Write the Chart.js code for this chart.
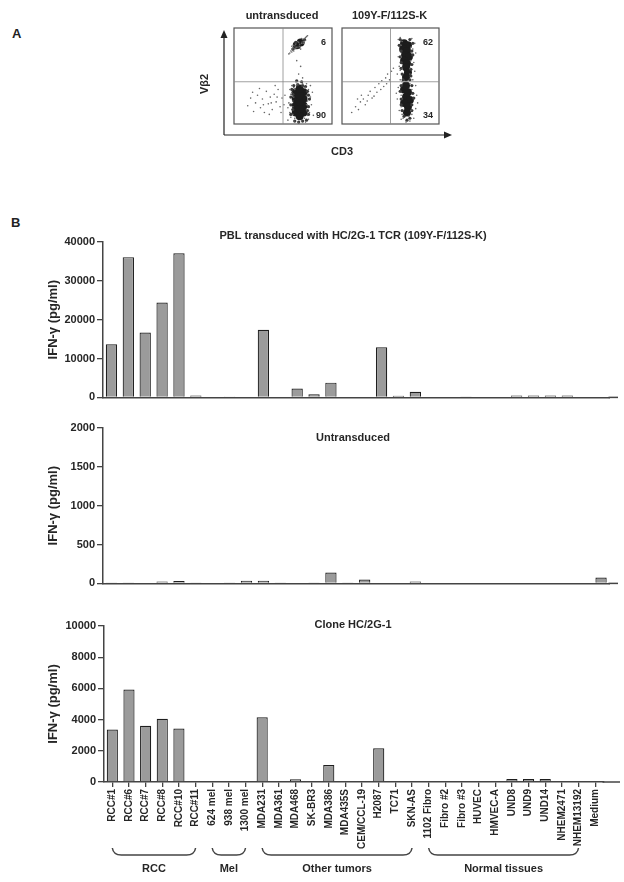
<!DOCTYPE html>
<html>
<head>
<meta charset="utf-8">
<script src="https://cdn.jsdelivr.net/npm/chart.js@4.4.1/dist/chart.umd.min.js"></script>
<style>
  body { margin: 0; background: #fff; }
  #page { position: relative; width: 624px; height: 882px; font-family: 'Liberation Sans', Arial, sans-serif; }
  canvas { position: absolute; }
  .panel-letter { position: absolute; font-weight: bold; font-size: 13px; color: #222; }
</style>
</head>
<body>
<div id="page">
  <div class="panel-letter" style="left:12px;top:26px">A</div>
  <div class="panel-letter" style="left:11px;top:215px">B</div>
  <canvas id="flow-untransduced" width="300" height="170" style="left:160px;top:0"></canvas>
  <canvas id="flow-transduced" width="110" height="170" style="left:338px;top:0"></canvas>
  <canvas id="chart-pbl" width="624" height="180" style="left:0;top:226px"></canvas>
  <canvas id="chart-untransduced" width="624" height="180" style="left:0;top:412px"></canvas>
  <canvas id="chart-clone" width="624" height="272" style="left:0;top:610px"></canvas>
</div>
<script>
// Panel A - flow cytometry (CD3 vs Vb2), values on a 0-100 display scale
const GATE_X = 50;
const GATE_Y = 44;
const UNTRANS_PCT = ['6', '90'];
const TRANS_PCT = ['62', '34'];

const UNTRANS_DENSE = [
    [63, 12], [63, 19], [63, 26], [63, 33], [71, 12], [71, 19], [71, 26], [71, 33],
    [67, 8], [67, 16], [67, 23], [67, 30], [67, 37],
    [64, 82], [68, 85]
];
const UNTRANS_FRINGE = [
    [58, 10], [58, 20], [58, 28], [59, 36], [76, 10], [76, 18], [77, 26], [75, 34], [62, 3],
    [66, 2], [70, 3], [74, 4], [61, 40], [65, 41], [70, 40], [73, 39], [60, 15], [75, 14],
    [60, 31], [76, 30], [64, 45], [69, 44],
    [60, 78], [62, 81], [70, 85], [72, 88], [66, 80], [63, 85]
];
const UNTRANS_SPARSE = [
    [55, 4], [57, 12], [56, 22], [58, 31], [59, 40], [61, 3], [60, 18], [62, 36], [63, 44],
    [74, 42], [76, 36], [78, 28], [79, 20], [77, 12], [76, 5], [73, 2], [80, 33], [81, 9],
    [58, 7], [75, 24], [61, 28], [74, 15], [66, 1], [70, 42], [64, 41], [78, 40], [55, 17], [57, 36],
    [60, 10], [60, 24], [74, 20], [74, 30], [62, 6], [72, 6], [61, 38], [73, 38], [65, 42],
    [69, 3], [59, 33], [75, 9],
    [14, 19], [17, 27], [20, 13], [22, 22], [24, 30], [27, 17], [29, 26], [31, 12], [33, 34],
    [35, 21], [37, 28], [39, 15], [41, 31], [43, 23], [45, 36], [47, 18], [49, 27], [26, 37],
    [19, 33], [36, 10], [42, 40], [48, 12], [30, 20], [44, 28], [38, 22], [52, 30], [51, 20],
    [56, 73], [58, 76], [60, 77], [61, 82], [63, 79], [65, 86], [67, 81], [69, 89], [71, 84],
    [73, 90], [75, 92], [59, 81], [68, 78], [57, 74], [59, 75], [60, 79], [62, 78], [63, 83],
    [64, 80], [66, 85], [67, 83], [69, 84], [70, 88], [71, 86], [72, 89], [73, 87], [74, 91],
    [61, 76], [66, 52], [68, 60], [64, 66], [70, 48]
];
const TRANS_DENSE = [
    [64, 84], [68, 82], [63, 78], [67, 76], [65, 72], [69, 70], [64, 66], [67, 63], [66, 59],
    [68, 54], [66, 49],
    [64, 36], [68, 33], [66, 28], [70, 25], [64, 22], [68, 18], [66, 40], [67, 12]
];
const TRANS_FRINGE = [
    [60, 88], [70, 88], [73, 84], [59, 82], [61, 76], [72, 76], [60, 70], [73, 72], [61, 64],
    [72, 62], [61, 58], [71, 57], [62, 52], [71, 50], [63, 46], [70, 46],
    [61, 40], [72, 40], [60, 34], [73, 32], [61, 26], [74, 27], [61, 20], [72, 20], [62, 14],
    [72, 14], [64, 8], [70, 6], [67, 4]
];
const TRANS_SPARSE = [
    [58, 88], [60, 90], [72, 89], [75, 84], [76, 74], [74, 64], [58, 70], [59, 60], [57, 52],
    [75, 55], [60, 46], [73, 46], [58, 38], [76, 40], [77, 30], [57, 26], [59, 14], [76, 16],
    [74, 6], [61, 5], [66, 2], [70, 3], [78, 22], [56, 32], [62, 10], [72, 10], [60, 56],
    [73, 78], [62, 86], [70, 58], [61, 82], [71, 80], [61, 70], [71, 66], [62, 58], [70, 52],
    [61, 30], [72, 36], [61, 18], [71, 14], [63, 6], [69, 8], [62, 44], [70, 42],
    [10, 12], [14, 18], [17, 15], [19, 23], [22, 26], [24, 20], [27, 30], [29, 34], [31, 27],
    [34, 38], [36, 33], [38, 42], [41, 45], [43, 39], [45, 48], [47, 52], [49, 46], [51, 55],
    [53, 58], [26, 24], [33, 29], [40, 36], [20, 30], [46, 42], [16, 26]
];

// Panel B - IFN-gamma release (pg/ml)
const CATEGORIES = [
    'RCC#1', 'RCC#6', 'RCC#7', 'RCC#8', 'RCC#10', 'RCC#11',
    '624 mel', '938 mel', '1300 mel',
    'MDA231', 'MDA361', 'MDA468', 'SK-BR3', 'MDA386', 'MDA435S', 'CEM/CCL-19', 'H2087', 'TC71', 'SKN-AS',
    '1102 Fibro', 'Fibro #2', 'Fibro #3', 'HUVEC', 'HMVEC-A', 'UND8', 'UND9', 'UND14', 'NHEM2471', 'NHEM13192',
    'Medium'
];
const PBL_VALUES = [
    13700, 36100, 16700, 24400, 37100, 500,
    0, 250, 0,
    17400, 0, 2300, 800, 3800, 0, 0, 12900, 450, 1450,
    0, 0, 200, 0, 0, 500, 500, 500, 500, 0,
    0
];
const UNTRANSDUCED_VALUES = [
    10, 10, 0, 25, 30, 10,
    0, 10, 35,
    35, 10, 0, 10, 140, 10, 50, 0, 0, 25,
    0, 0, 0, 0, 0, 0, 0, 0, 0, 0,
    75
];
const CLONE_VALUES = [
    3370, 5930, 3600, 4050, 3430, 0,
    0, 0, 0,
    4150, 0, 170, 0, 1090, 0, 0, 2160, 0, 0,
    0, 0, 0, 0, 0, 200, 200, 200, 0, 0,
    0
];
const GROUP_NAMES = ['RCC', 'Mel', 'Other tumors', 'Normal tissues'];
const GROUP_FIRST = [0, 6, 9, 19];
const GROUP_LAST = [5, 8, 18, 28];

// Styles
const FONT = "'Liberation Sans', Arial, sans-serif";
const TEXT_COLOR = '#262626';
const AXIS_COLOR = '#444';
const BAR_FILL = '#9b9b9b';
const BAR_EDGE = '#1e1e1e';

Chart.defaults.font.family = FONT;
Chart.defaults.color = TEXT_COLOR;
Chart.defaults.animation = false;
Chart.defaults.plugins.legend.display = false;
Chart.defaults.plugins.tooltip.enabled = false;

function toPoints(pairs) {
    return pairs.map(p => ({ x: p[0], y: p[1] }));
}

function drawArrow(ctx, x1, y1, x2, y2) {
    const angle = Math.atan2(y2 - y1, x2 - x1);
    ctx.beginPath();
    ctx.moveTo(x1, y1);
    ctx.lineTo(x2 - 6 * Math.cos(angle), y2 - 6 * Math.sin(angle));
    ctx.stroke();
    ctx.beginPath();
    ctx.moveTo(x2, y2);
    ctx.lineTo(x2 - 8 * Math.cos(angle) + 3.5 * Math.sin(angle), y2 - 8 * Math.sin(angle) - 3.5 * Math.cos(angle));
    ctx.lineTo(x2 - 8 * Math.cos(angle) - 3.5 * Math.sin(angle), y2 - 8 * Math.sin(angle) + 3.5 * Math.cos(angle));
    ctx.closePath();
    ctx.fill();
}

// Box, quadrant gates and labels for a dot plot
const flowFrame = {
    id: 'flowFrame',
    afterDraw(chart, args, opts) {
        const { ctx, chartArea: a, scales } = chart;
        const gx = scales.x.getPixelForValue(opts.gateX);
        const gy = scales.y.getPixelForValue(opts.gateY);
        ctx.save();
        ctx.strokeStyle = '#555';
        ctx.lineWidth = 1.2;
        ctx.strokeRect(a.left, a.top, a.right - a.left, a.bottom - a.top);
        ctx.strokeStyle = '#888';
        ctx.lineWidth = 0.8;
        ctx.beginPath();
        ctx.moveTo(gx, a.top);
        ctx.lineTo(gx, a.bottom);
        ctx.moveTo(a.left, gy);
        ctx.lineTo(a.right, gy);
        ctx.stroke();

        ctx.fillStyle = TEXT_COLOR;
        ctx.font = 'bold 9px ' + FONT;
        ctx.textAlign = 'right';
        ctx.textBaseline = 'middle';
        ctx.fillText(opts.pct[0], a.right - 6, a.top + 15);
        ctx.fillText(opts.pct[1], a.right - 6, a.bottom - 8);

        ctx.font = 'bold 11px ' + FONT;
        ctx.textAlign = 'center';
        ctx.fillText(opts.title, (a.left + a.right) / 2 - 1, a.top - 12);

        if (opts.axes) {
            ctx.strokeStyle = '#222';
            ctx.fillStyle = '#222';
            ctx.lineWidth = 1.2;
            const ox = a.left - 10;
            const oy = a.bottom + 11;
            drawArrow(ctx, ox, oy, ox, a.top + 2);
            drawArrow(ctx, ox, oy, a.right + 120, oy);
            ctx.fillStyle = TEXT_COLOR;
            ctx.fillText('CD3', a.right + 10, a.bottom + 28);
            ctx.translate(a.left - 29, a.top + 56);
            ctx.rotate(-Math.PI / 2);
            ctx.fillText('V\u03b22', 0, 0);
        }
        ctx.restore();
    }
};

function makeFlowChart(id, dense, fringe, sparse, pct, title, padding, axes) {
    return new Chart(document.getElementById(id), {
        type: 'scatter',
        data: {
            datasets: [
                { data: toPoints(sparse), pointRadius: 0.8, backgroundColor: '#666', borderWidth: 0 },
                { data: toPoints(fringe), pointRadius: 1.6, backgroundColor: '#3a3a3a', borderWidth: 0 },
                { data: toPoints(dense), pointRadius: 4, backgroundColor: '#1c1c1c', borderWidth: 0 }
            ]
        },
        options: {
            responsive: false,
            devicePixelRatio: 1,
            layout: { padding },
            scales: {
                x: { display: false, min: 0, max: 100 },
                y: { display: false, min: 0, max: 100 }
            },
            plugins: {
                flowFrame: { gateX: GATE_X, gateY: GATE_Y, pct, title, axes }
            }
        },
        plugins: [flowFrame]
    });
}

// Panel title inside the plot area
const panelTitle = {
    id: 'panelTitle',
    afterDraw(chart, args, opts) {
        const { ctx, chartArea } = chart;
        ctx.save();
        ctx.font = 'bold 11px ' + FONT;
        ctx.fillStyle = TEXT_COLOR;
        ctx.textAlign = 'center';
        ctx.textBaseline = 'middle';
        ctx.fillText(opts.text, opts.x, chartArea.top + opts.dy);
        ctx.restore();
    }
};

// x axis line runs on past the last category
const axisExtend = {
    id: 'axisExtend',
    afterDraw(chart, args, opts) {
        const { ctx, chartArea } = chart;
        ctx.save();
        ctx.strokeStyle = AXIS_COLOR;
        ctx.lineWidth = 1.5;
        ctx.beginPath();
        ctx.moveTo(chartArea.right - 1, chartArea.bottom);
        ctx.lineTo(opts.endX, chartArea.bottom);
        ctx.stroke();
        ctx.restore();
    }
};

// Brackets grouping the cell lines
const groupBrackets = {
    id: 'groupBrackets',
    afterDraw(chart) {
        const { ctx, chartArea, scales } = chart;
        const top = chartArea.bottom + 66;
        const bottom = chartArea.bottom + 73;
        ctx.save();
        ctx.strokeStyle = AXIS_COLOR;
        ctx.lineWidth = 1.5;
        ctx.fillStyle = TEXT_COLOR;
        ctx.font = 'bold 11px ' + FONT;
        ctx.textAlign = 'center';
        ctx.textBaseline = 'middle';
        GROUP_NAMES.forEach((name, i) => {
            const x0 = scales.x.getPixelForValue(GROUP_FIRST[i]);
            const x1 = scales.x.getPixelForValue(GROUP_LAST[i]);
            ctx.beginPath();
            ctx.moveTo(x0, top);
            ctx.quadraticCurveTo(x0 + 1, bottom, x0 + 9, bottom);
            ctx.lineTo(x1 - 9, bottom);
            ctx.quadraticCurveTo(x1 - 1, bottom, x1, top);
            ctx.stroke();
            ctx.fillText(name, (x0 + x1) / 2, chartArea.bottom + 87);
        });
        ctx.restore();
    }
};

function makeBarChart(id, values, cfg) {
    const xAxis = cfg.labels ? {
        offset: true,
        grid: { display: true, drawOnChartArea: false, offset: false, tickLength: 5, color: AXIS_COLOR, lineWidth: 1.3 },
        border: { display: true, color: AXIS_COLOR, width: 1.5 },
        ticks: {
            autoSkip: false, minRotation: 90, maxRotation: 90, padding: 2,
            font: { size: 10, weight: 'bold' }, color: TEXT_COLOR
        },
        afterFit: s => { s.height = 100; }
    } : {
        offset: true,
        grid: { display: false, drawTicks: false },
        border: { display: true, color: AXIS_COLOR, width: 1.5 },
        ticks: { display: false }
    };

    const plugins = [panelTitle, axisExtend];
    if (cfg.labels) plugins.push(groupBrackets);

    return new Chart(document.getElementById(id), {
        type: 'bar',
        data: {
            labels: CATEGORIES,
            datasets: [{
                // no bar at all where nothing was measured
                data: values.map(v => (v > 0 ? v : null)),
                backgroundColor: BAR_FILL,
                borderColor: BAR_EDGE,
                borderWidth: 1.2,
                barPercentage: 0.67,
                categoryPercentage: 1.0
            }]
        },
        options: {
            responsive: false,
            devicePixelRatio: 1,
            layout: { padding: cfg.padding },
            scales: {
                x: xAxis,
                y: {
                    min: 0,
                    max: cfg.max,
                    ticks: {
                        stepSize: cfg.step, padding: 2,
                        font: { size: 11, weight: 'bold' }, color: TEXT_COLOR,
                        callback: value => String(value)
                    },
                    grid: { drawOnChartArea: false, tickLength: 6, color: AXIS_COLOR, lineWidth: 1.3 },
                    border: { color: AXIS_COLOR, width: 1.5 },
                    title: {
                        display: true,
                        text: 'IFN-\u03b3 (pg/ml)',
                        font: { size: 13, weight: 'bold' },
                        color: TEXT_COLOR,
                        padding: { top: 46, bottom: 0 }
                    },
                    afterFit: s => { s.width = cfg.yWidth; }
                }
            },
            plugins: {
                panelTitle: { text: cfg.title, x: 353, dy: cfg.titleDy },
                axisExtend: { endX: cfg.axisEnd }
            }
        },
        plugins
    });
}

function initFigure() {
    makeFlowChart('flow-untransduced', UNTRANS_DENSE, UNTRANS_FRINGE, UNTRANS_SPARSE, UNTRANS_PCT,
        'untransduced', { left: 74, right: 128, top: 28, bottom: 46 }, true);
    makeFlowChart('flow-transduced', TRANS_DENSE, TRANS_FRINGE, TRANS_SPARSE, TRANS_PCT,
        '109Y-F/112S-K', { left: 3, right: 9, top: 28, bottom: 46 }, false);

    makeBarChart('chart-pbl', PBL_VALUES, {
        title: 'PBL transduced with HC/2G-1 TCR (109Y-F/112S-K)', titleDy: -6,
        max: 40000, step: 10000, yWidth: 103, axisEnd: 618,
        padding: { left: 0, right: 14.5, top: 16, bottom: 7 }
    });
    makeBarChart('chart-untransduced', UNTRANSDUCED_VALUES, {
        title: 'Untransduced', titleDy: 10,
        max: 2000, step: 500, yWidth: 103, axisEnd: 618,
        padding: { left: 0, right: 14.5, top: 16, bottom: 7 }
    });
    makeBarChart('chart-clone', CLONE_VALUES, {
        title: 'Clone HC/2G-1', titleDy: -1,
        max: 10000, step: 2000, yWidth: 104, axisEnd: 620, labels: true,
        padding: { left: 0, right: 20.5, top: 16, bottom: 0 }
    });
}

document.addEventListener('DOMContentLoaded', initFigure);
</script>
</body>
</html>
